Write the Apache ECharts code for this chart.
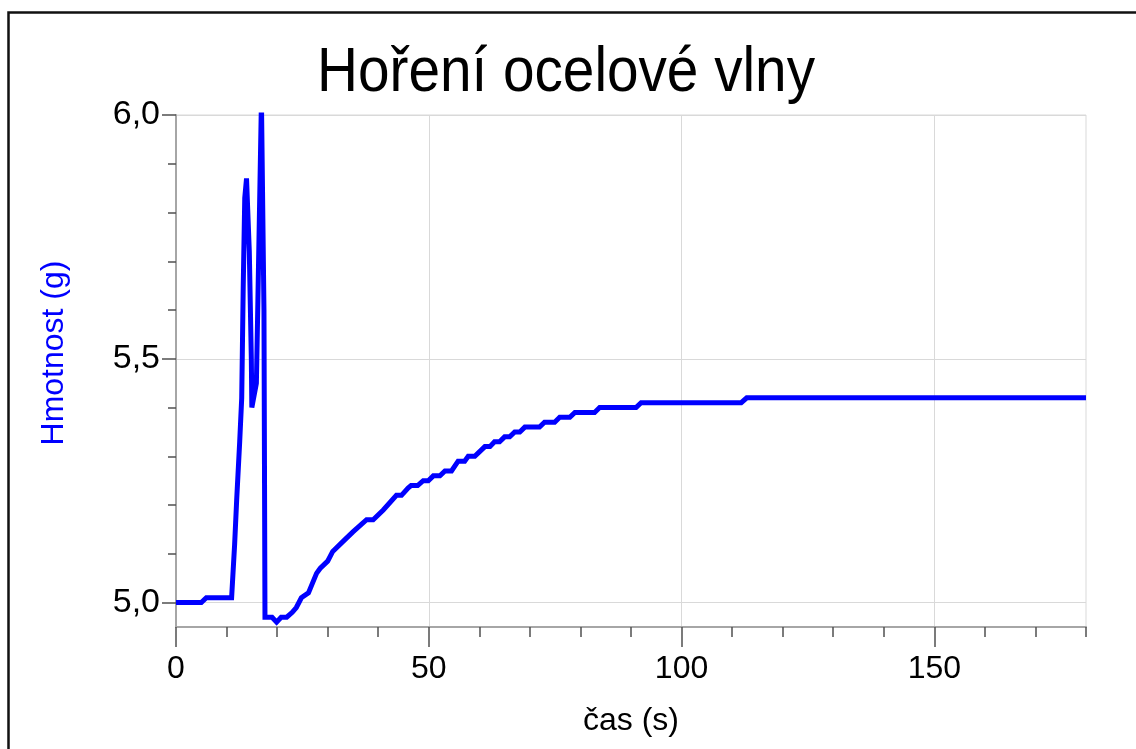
<!DOCTYPE html>
<html>
<head>
<meta charset="utf-8">
<script src="https://cdn.jsdelivr.net/npm/echarts@6/dist/echarts.min.js"></script>
<style>
html,body{margin:0;padding:0;background:#fff;}
#chart{width:1136px;height:749px;}
</style>
</head>
<body>
<div id="chart"></div>
<script>
// --- data ---
const titleText = 'Hoření ocelové vlny';
const xName = 'čas (s)';
const yName = 'Hmotnost (g)';

const time = [0, 5.0, 6.0, 11.0, 11.6, 12.0, 12.6, 13.0, 13.3, 13.6, 13.95, 14.5, 14.9, 15.0, 15.9, 16.2, 16.9, 17.4, 17.6,
  19.0, 19.9, 20.8, 21.9, 23.0, 23.8, 24.8, 26.2, 27.0, 27.8, 28.5, 30.0, 31.0, 33.0, 35.0, 37.7, 39.0, 41.0, 43.6, 44.6,
  45.9, 46.5, 47.8, 48.9, 49.9, 50.9, 52.2, 53.2, 54.5, 55.8, 57.1, 57.8, 59.1, 61.1, 62.1, 63.0, 64.0, 65.0, 66.0, 67.0,
  68.0, 69.0, 71.9, 72.9, 74.9, 75.9, 77.9, 78.9, 82.8, 83.8, 91.0, 92.0, 111.8, 112.9, 180];
const mass = [5.00, 5.00, 5.01, 5.01, 5.12, 5.21, 5.33, 5.42, 5.65, 5.83, 5.87, 5.72, 5.50, 5.40, 5.45, 5.62, 6.03, 5.60, 4.97,
  4.97, 4.96, 4.97, 4.97, 4.98, 4.99, 5.01, 5.02, 5.04, 5.06, 5.07, 5.085, 5.105, 5.125, 5.145, 5.17, 5.17, 5.19, 5.22, 5.22,
  5.235, 5.24, 5.24, 5.25, 5.25, 5.26, 5.26, 5.27, 5.27, 5.29, 5.29, 5.30, 5.30, 5.32, 5.32, 5.33, 5.33, 5.34, 5.34, 5.35,
  5.35, 5.36, 5.36, 5.37, 5.37, 5.38, 5.38, 5.39, 5.39, 5.40, 5.40, 5.41, 5.41, 5.42, 5.42];

const xMajorTicks = [0, 50, 100, 150];
const xMinorTicks = [10, 20, 30, 40, 60, 70, 80, 90, 110, 120, 130, 140, 160, 170, 180];
const yMajorTicks = [5.0, 5.5, 6.0];
const yMinorTicks = [5.1, 5.2, 5.3, 5.4, 5.6, 5.7, 5.8, 5.9];

const xRange = [0, 180];
const yRange = [4.95, 6.0];

// --- chart ---
const FONT = '"Liberation Sans", Arial, sans-serif';
const chart = echarts.init(document.getElementById('chart'), null, {renderer: 'canvas'});
const gridColor = '#d9d9d9';
const axisColor = '#a6a6a6';
const tickColor = '#505050';

const option = {
  animation: false,
  backgroundColor: '#ffffff',
  graphic: [
    {
      type: 'rect', silent: true, z: 100,
      shape: {x: 8.5, y: 12.5, width: 1300, height: 900},
      style: {fill: 'none', stroke: '#111', lineWidth: 2.5}
    },
    {
      type: 'text', silent: true, x: 566, y: 74, scaleX: 0.9,
      style: {text: titleText, font: '63px ' + FONT, fill: '#000', align: 'center', verticalAlign: 'middle'}
    }
  ],
  grid: {
    left: 176, right: 50, top: 115, bottom: 122,
    show: true, borderColor: gridColor, borderWidth: 1, backgroundColor: 'transparent'
  },
  xAxis: [
    {
      type: 'value', min: xRange[0], max: xRange[1], position: 'bottom',
      name: xName, nameLocation: 'middle', nameGap: 78,
      nameTextStyle: {fontFamily: FONT, fontSize: 32, color: '#000'},
      axisLine: {show: true, lineStyle: {color: axisColor, width: 2}},
      axisTick: {show: true, inside: false, length: 20, customValues: xMajorTicks, lineStyle: {color: tickColor, width: 1.5}},
      axisLabel: {show: true, customValues: xMajorTicks, margin: 26, fontFamily: FONT, fontSize: 32, color: '#000'},
      splitLine: {show: true, lineStyle: {color: gridColor, width: 1}}
    },
    {
      type: 'value', min: xRange[0], max: xRange[1], position: 'bottom',
      axisLine: {show: false},
      axisTick: {show: true, inside: false, length: 10, customValues: xMinorTicks, lineStyle: {color: tickColor, width: 1.5}},
      axisLabel: {show: false},
      splitLine: {show: false}
    }
  ],
  yAxis: [
    {
      type: 'value', min: yRange[0], max: yRange[1], position: 'left',
      name: yName, nameLocation: 'middle', nameGap: 106, nameRotate: 90,
      nameTextStyle: {fontFamily: FONT, fontSize: 32, color: '#0000ff', padding: [0, 0, 0, 36]},
      axisLine: {show: true, lineStyle: {color: axisColor, width: 2}},
      axisTick: {show: true, inside: false, length: 14, customValues: yMajorTicks, lineStyle: {color: tickColor, width: 1.5}},
      axisLabel: {
        show: true, customValues: yMajorTicks, margin: 16, fontFamily: FONT, fontSize: 34, color: '#000',
        formatter: v => v.toFixed(1).replace('.', ',')
      },
      splitLine: {show: true, lineStyle: {color: gridColor, width: 1}}
    },
    {
      type: 'value', min: yRange[0], max: yRange[1], position: 'left',
      axisLine: {show: false},
      axisTick: {show: true, inside: false, length: 8, customValues: yMinorTicks, lineStyle: {color: tickColor, width: 1.5}},
      axisLabel: {show: false},
      splitLine: {show: false}
    }
  ],
  series: [
    {
      type: 'line',
      xAxisIndex: 0, yAxisIndex: 0,
      data: time.map((t, i) => [t, mass[i]]),
      showSymbol: false, symbol: 'none',
      clip: true,
      lineStyle: {color: '#0000ff', width: 5, join: 'miter'},
      z: 5
    }
  ]
};
chart.setOption(option);
</script>
</body>
</html>
